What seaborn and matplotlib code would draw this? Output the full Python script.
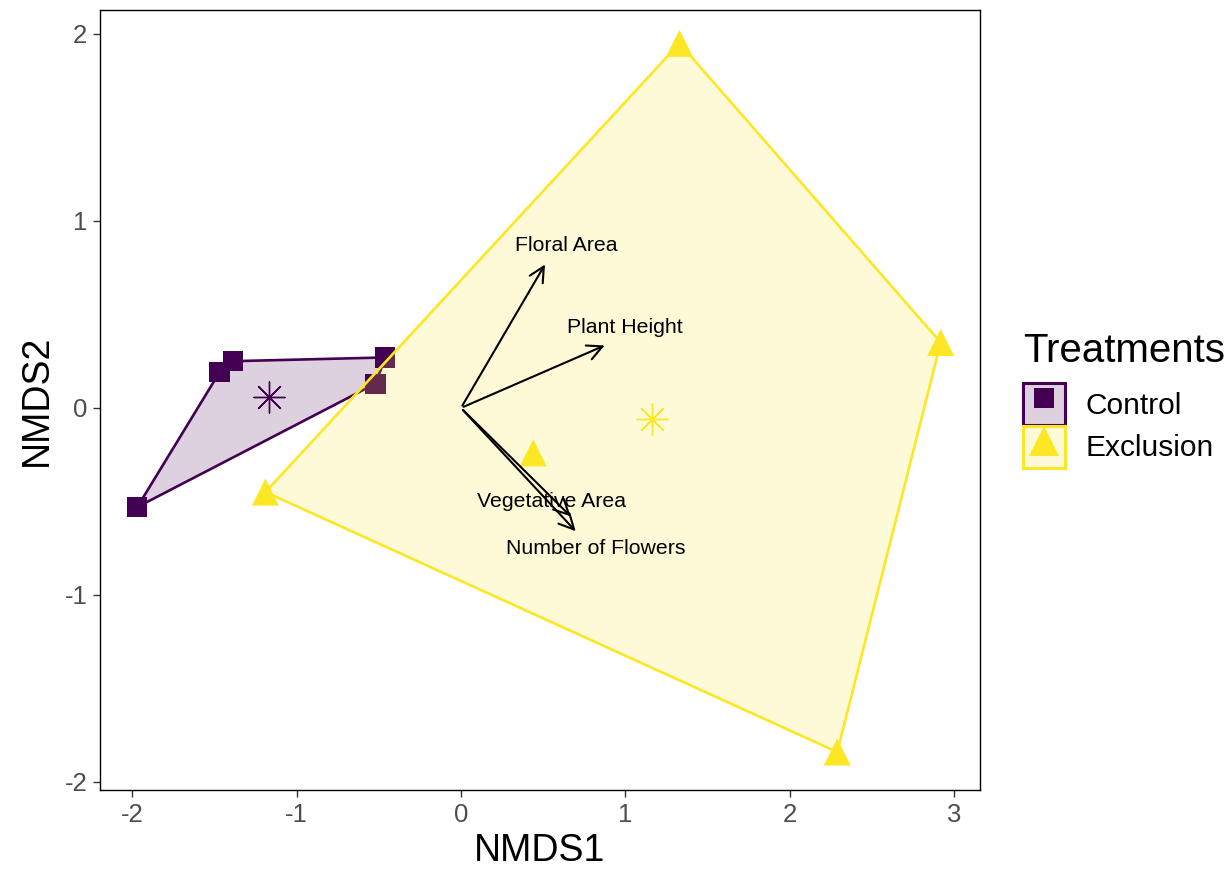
import matplotlib
matplotlib.use('Agg')
import matplotlib.pyplot as plt
from matplotlib.patches import Patch
from matplotlib.lines import Line2D
import numpy as np
import pandas as pd
import seaborn as sns

# NMDS site scores
control_x = [-1.97, -1.47, -1.39, -0.46, -0.52]
control_y = [-0.53, 0.19, 0.25, 0.27, 0.13]
exclusion_x = [1.33, 2.92, 2.29, -1.19, 0.44]
exclusion_y = [1.95, 0.35, -1.84, -0.45, -0.24]

# group centroids
centroid_x = [-1.17, 1.16]
centroid_y = [0.06, -0.06]

# env fit vectors
vec_names = ['Floral Area', 'Plant Height', 'Vegetative Area', 'Number of Flowers']
vec_x = [0.52, 0.89, 0.68, 0.71]
vec_y = [0.78, 0.34, -0.59, -0.67]
lab_x = [0.64, 1.00, 0.55, 0.82]
lab_y = [0.87, 0.43, -0.50, -0.75]

groups = ['Control', 'Exclusion']
colors = {'Control': '#440154', 'Exclusion': '#FDE725'}
markers = {'Control': 's', 'Exclusion': '^'}
sizes = {'Control': 210, 'Exclusion': 380}

df = pd.DataFrame({
    'NMDS1': control_x + exclusion_x,
    'NMDS2': control_y + exclusion_y,
    'Treatment': ['Control'] * len(control_x) + ['Exclusion'] * len(exclusion_x),
})

sns.set_theme(style='white')
plt.rcParams['font.family'] = ['Liberation Sans', 'DejaVu Sans']
plt.rcParams['axes.unicode_minus'] = False
plt.rcParams['text.color'] = 'black'

fig = plt.figure(figsize=(12.32, 8.72), dpi=100)
ax = fig.add_axes([100 / 1232, 82 / 872, 880 / 1232, 780 / 872])


def hull(pts):
    pts = sorted(set(pts))
    def cross(o, a, b):
        return (a[0] - o[0]) * (b[1] - o[1]) - (a[1] - o[1]) * (b[0] - o[0])
    lower, upper = [], []
    for p in pts:
        while len(lower) >= 2 and cross(lower[-2], lower[-1], p) <= 0:
            lower.pop()
        lower.append(p)
    for p in reversed(pts):
        while len(upper) >= 2 and cross(upper[-2], upper[-1], p) <= 0:
            upper.pop()
        upper.append(p)
    return lower[:-1] + upper[:-1]


for i, g in enumerate(groups):
    sub = df[df['Treatment'] == g]
    h = np.array(hull(list(zip(sub['NMDS1'], sub['NMDS2']))))
    ax.fill(h[:, 0], h[:, 1], facecolor=colors[g], alpha=0.18, edgecolor='none', zorder=2 + 2 * i)
    ax.fill(h[:, 0], h[:, 1], facecolor='none', edgecolor=colors[g], lw=1.9, zorder=2 + 2 * i)
    sns.scatterplot(data=sub, x='NMDS1', y='NMDS2', marker=markers[g], s=sizes[g],
                    color=colors[g], edgecolor='none', ax=ax, zorder=1 + 2 * i + (2 if g == 'Exclusion' else 0),
                    legend=False)
    ax.scatter([centroid_x[i]], [centroid_y[i]], marker=(8, 2, 0), s=500,
               color=colors[g], linewidths=1.0, zorder=6)

for name, vx, vy, tx, ty in zip(vec_names, vec_x, vec_y, lab_x, lab_y):
    ax.annotate('', xy=(vx, vy), xytext=(0, 0),
                arrowprops=dict(arrowstyle='->,head_length=0.9,head_width=0.45', color='black', lw=1.5),
                zorder=7)
    ax.text(tx, ty, name, ha='center', va='center', fontsize=15.3, color='black', zorder=8)

ax.set_xlim(-2.197, 3.159)
ax.set_ylim(-2.043, 2.128)
ax.set_xticks([-2, -1, 0, 1, 2, 3])
ax.set_yticks([-2, -1, 0, 1, 2])
ax.set_xlabel('NMDS1', fontsize=27, color='black', labelpad=5)
ax.set_ylabel('NMDS2', fontsize=27, color='black', labelpad=7)
ax.tick_params(axis='both', which='both', length=5, width=1, color='#333333',
               labelsize=18.5, labelcolor='#4D4D4D', direction='out', bottom=True, left=True,
               pad=4)
for sp in ax.spines.values():
    sp.set_color('black')
    sp.set_linewidth(1.0)

handles = []
for g in groups:
    box = Patch(facecolor=matplotlib.colors.to_rgba(colors[g], 0.18), edgecolor=colors[g], lw=2.2)
    mk = Line2D([], [], marker=markers[g], color=colors[g], linestyle='none',
                markersize=14 if g == 'Control' else 22, markeredgewidth=0)
    handles.append((box, mk))

leg = ax.legend(handles, groups, title='Treatments', loc='center left',
                bbox_to_anchor=(1.035, 0.5), frameon=False, fontsize=21.5,
                title_fontsize=29, handlelength=1.4, handleheight=1.785,
                handletextpad=0.7, labelspacing=0.02, borderaxespad=0,
                labelcolor='black')
leg.get_title().set_color('black')
leg._legend_box.align = 'left'
leg._legend_box.sep = 9

fig.savefig('out.png', dpi=100)
